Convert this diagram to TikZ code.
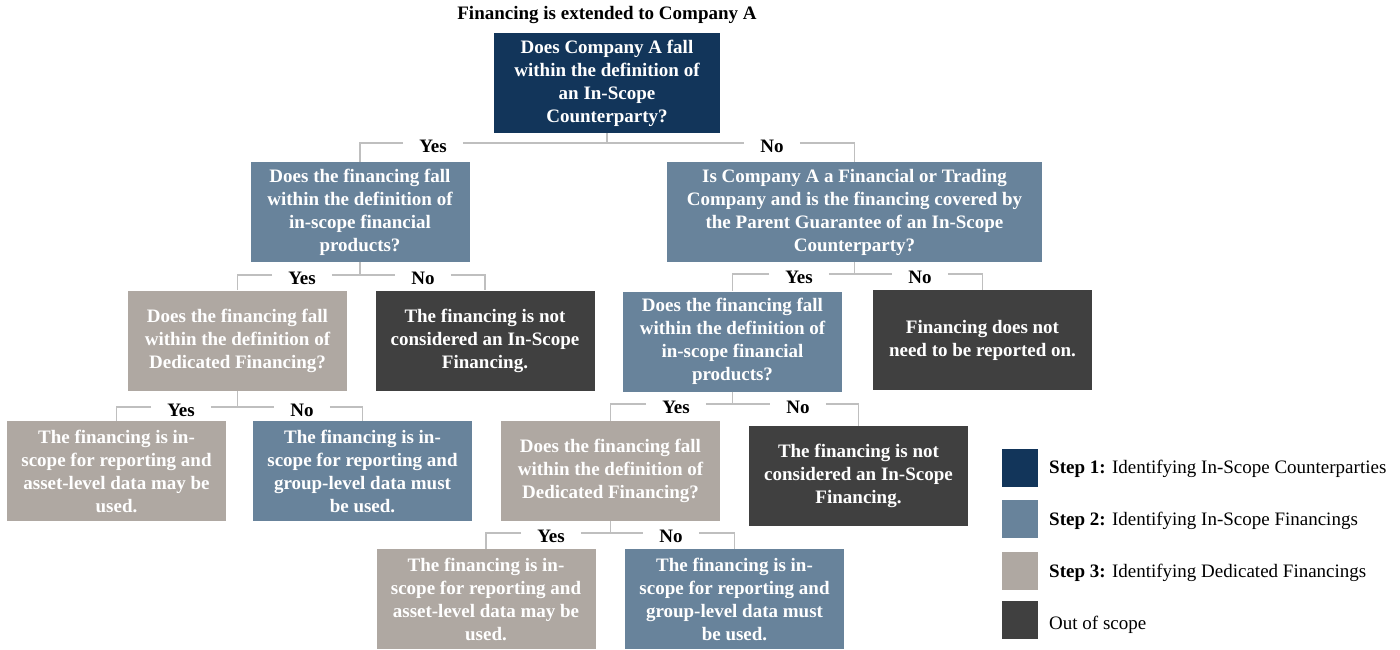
\documentclass[tikz,border=0pt]{standalone}
\usepackage{fontspec}
\setmainfont{Liberation Serif}
\definecolor{stepone}{HTML}{12355A}
\definecolor{steptwo}{HTML}{68839B}
\definecolor{stepthree}{HTML}{AFA8A2}
\definecolor{outscope}{HTML}{404040}
\definecolor{linkgray}{HTML}{BFBFBF}
\begin{document}
\begin{tikzpicture}[x=1pt,y=-1pt,
		box/.style={text=white, font=\fontsize{19}{23}\selectfont\bfseries, align=center, minimum width=219pt, minimum height=100pt, inner sep=0pt},
		link/.style={linkgray, line width=1.5pt},
		answer/.style={font=\fontsize{19}{23}\selectfont\bfseries, text height=19pt, text depth=0pt, inner ysep=0pt, inner xsep=16pt},
		legbox/.style={minimum width=36pt, minimum height=38pt, inner sep=0pt},
		legtext/.style={anchor=west, font=\fontsize{19}{23}\selectfont, inner sep=0pt}]
	\useasboundingbox (0,0) rectangle (1400,650);

	\node[font=\fontsize{19}{23}\selectfont\bfseries] (title) at (607,15) {Financing is extended to Company A};

	% boxes
	\node[box, fill=stepone, minimum width=226pt] (b1) at (607,83) {Does Company A fall\\within the definition of\\an In-Scope\\Counterparty?};
	\node[box, fill=steptwo] (b2l) at (360,212) {Does the financing fall\\within the definition of\\in-scope financial\\products?};
	\node[box, fill=steptwo, minimum width=375pt] (b2r) at (854.5,212) {Is Company A a Financial or Trading\\Company and is the financing covered by\\the Parent Guarantee of an In-Scope\\Counterparty?};
	\node[box, fill=stepthree] (b3l) at (237.5,340.5) {Does the financing fall\\within the definition of\\Dedicated Financing?};
	\node[box, fill=outscope] (out1) at (485,340.5) {The financing is not\\considered an In-Scope\\Financing.};
	\node[box, fill=stepthree] (leafa) at (116.5,471) {The financing is in-\\scope for reporting and\\asset-level data may be\\used.};
	\node[box, fill=steptwo] (leafb) at (362.5,471) {The financing is in-\\scope for reporting and\\group-level data must\\be used.};
	\node[box, fill=steptwo] (b2ry) at (732.5,341.5) {Does the financing fall\\within the definition of\\in-scope financial\\products?};
	\node[box, fill=outscope] (out2) at (982.5,340) {Financing does not\\need to be reported on.};
	\node[box, fill=stepthree] (b3r) at (610.5,471) {Does the financing fall\\within the definition of\\Dedicated Financing?};
	\node[box, fill=outscope] (out3) at (858.5,476) {The financing is not\\considered an In-Scope\\Financing.};
	\node[box, fill=stepthree] (leafc) at (486,599) {The financing is in-\\scope for reporting and\\asset-level data may be\\used.};
	\node[box, fill=steptwo] (leafd) at (734.5,599) {The financing is in-\\scope for reporting and\\group-level data must\\be used.};

	% answers
	\node[answer] (y1) at (433,143) {Yes};
	\node[answer] (n1) at (772,143) {No};
	\node[answer] (y2) at (302,275) {Yes};
	\node[answer] (n2) at (423,275) {No};
	\node[answer] (y3) at (799,274) {Yes};
	\node[answer] (n3) at (920,274) {No};
	\node[answer] (y4) at (181,407) {Yes};
	\node[answer] (n4) at (302,407) {No};
	\node[answer] (y5) at (676,404) {Yes};
	\node[answer] (n5) at (798,404) {No};
	\node[answer] (y6) at (551,533) {Yes};
	\node[answer] (n6) at (671,533) {No};

	% connectors
	\draw[link] (b1.south) -- (b1.south |- y1.east);
	\draw[link] (y1.east) -- (n1.west);
	\draw[link] (y1.west) -| (b2l.north);
	\draw[link] (n1.east) -| (b2r.north);

	\draw[link] (b2l.south) -- (b2l.south |- y2.east);
	\draw[link] (y2.east) -- (n2.west);
	\draw[link] (y2.west) -| (b3l.north);
	\draw[link] (n2.east) -| (out1.north);

	\draw[link] (b2r.south) -- (b2r.south |- y3.east);
	\draw[link] (y3.east) -- (n3.west);
	\draw[link] (y3.west) -| (b2ry.north);
	\draw[link] (n3.east) -| (out2.north);

	\draw[link] (b3l.south) -- (b3l.south |- y4.east);
	\draw[link] (y4.east) -- (n4.west);
	\draw[link] (y4.west) -| (leafa.north);
	\draw[link] (n4.east) -| (leafb.north);

	\draw[link] (b2ry.south) -- (b2ry.south |- y5.east);
	\draw[link] (y5.east) -- (n5.west);
	\draw[link] (y5.west) -| (b3r.north);
	\draw[link] (n5.east) -| (out3.north);

	\draw[link] (b3r.south) -- (b3r.south |- y6.east);
	\draw[link] (y6.east) -- (n6.west);
	\draw[link] (y6.west) -| (leafc.north);
	\draw[link] (n6.east) -| (leafd.north);

	% legend
	\node[legbox, fill=stepone] (l1) at (1020,468) {};
	\node[legbox, fill=steptwo] (l2) at (1020,519) {};
	\node[legbox, fill=stepthree] (l3) at (1020,570.5) {};
	\node[legbox, fill=outscope] (l4) at (1020,620) {};
	\node[legtext] (t1) at (1049,469) {\textbf{Step 1:} Identifying In-Scope Counterparties};
	\node[legtext] (t2) at (1049,521) {\textbf{Step 2:} Identifying In-Scope Financings};
	\node[legtext] (t3) at (1049,573) {\textbf{Step 3:} Identifying Dedicated Financings};
	\node[legtext] (t4) at (1049,625) {Out of scope};
\end{tikzpicture}
\end{document}
